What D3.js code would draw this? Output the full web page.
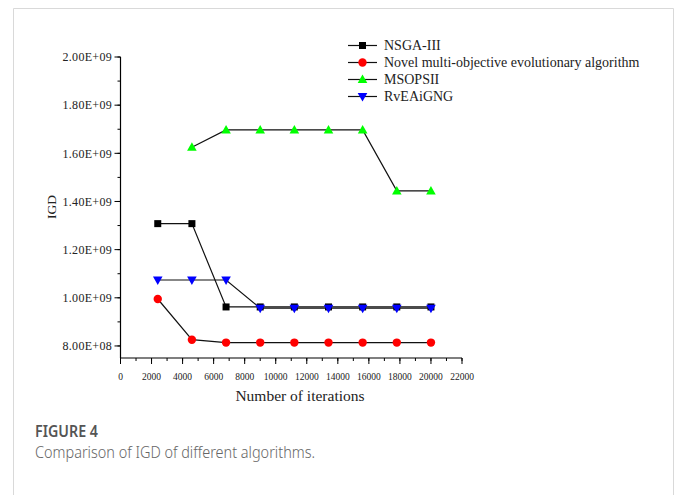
<!DOCTYPE html>
<html><head><meta charset="utf-8">
<script src="https://cdn.jsdelivr.net/npm/d3@7"></script>
<style>
html,body{margin:0;padding:0;background:#fff;}
svg{display:block;}
</style></head>
<body>
<svg id="chart" width="680" height="495"></svg>
<script>
const iterations = [2400, 4600, 6800, 9000, 11200, 13400, 15600, 17800, 20000];
const nsga3 = [1.308e9, 1.308e9, 9.62e8, 9.62e8, 9.62e8, 9.62e8, 9.62e8, 9.62e8, 9.62e8];
const novel = [9.95e8, 8.26e8, 8.14e8, 8.14e8, 8.14e8, 8.14e8, 8.14e8, 8.14e8, 8.14e8];
const msopsii = [null, 1.625e9, 1.697e9, 1.697e9, 1.697e9, 1.697e9, 1.697e9, 1.444e9, 1.444e9];
const rveaignG = [1.074e9, 1.074e9, 1.074e9, 9.57e8, 9.57e8, 9.57e8, 9.57e8, 9.57e8, 9.57e8];
const seriesNames = ["NSGA-III", "Novel multi-objective evolutionary algorithm", "MSOPSII", "RvEAiGNG"];
const yTickValues = [8e8, 1e9, 1.2e9, 1.4e9, 1.6e9, 1.8e9, 2e9];
const yTickLabels = ["8.00E+08", "1.00E+09", "1.20E+09", "1.40E+09", "1.60E+09", "1.80E+09", "2.00E+09"];
const xTickValues = [0,2000,4000,6000,8000,10000,12000,14000,16000,18000,20000,22000];

const series = [
  {name: seriesNames[0], values: nsga3, marker: "square", color: "#000000"},
  {name: seriesNames[1], values: novel, marker: "circle", color: "#ff0000"},
  {name: seriesNames[2], values: msopsii, marker: "triUp", color: "#00ff00"},
  {name: seriesNames[3], values: rveaignG, marker: "triDown", color: "#0000ff"}
];

const svg = d3.select("#chart");
// frame
svg.append("path").attr("d","M13.5,500 L13.5,8.5 L673.5,8.5 L673.5,500")
  .attr("fill","none").attr("stroke","#d9d9d9").attr("stroke-width",1);

const x = d3.scaleLinear().domain([0,22000]).range([120.5,462]);
const y = d3.scaleLinear().domain([7.5e8,2.0e9]).range([358,57]);
const serif = "'Liberation Serif','Times New Roman',serif";

// y axis
const gy = svg.append("g").attr("transform","translate(120.5,0)");
gy.append("line").attr("y1",y(2e9)).attr("y2",y(7.5e8)).attr("stroke","#000").attr("stroke-width",1.2);
const yMinor = d3.range(8e8, 2.0e9+1, 1e8);
gy.selectAll("line.minor").data(yMinor).enter().append("line")
  .attr("x1",-3).attr("x2",0).attr("y1",d=>y(d)).attr("y2",d=>y(d)).attr("stroke","#000");
gy.selectAll("line.major").data(yTickValues).enter().append("line")
  .attr("x1",-6).attr("x2",0).attr("y1",d=>y(d)).attr("y2",d=>y(d)).attr("stroke","#000");
gy.selectAll("text").data(yTickValues).enter().append("text")
  .attr("x",-8.5).attr("y",d=>y(d)).attr("dy","0.35em").attr("text-anchor","end")
  .attr("font-family",serif).attr("font-size",12).attr("fill","#222").attr("letter-spacing","0.3px")
  .text((d,i)=>yTickLabels[i]);

// x axis
const gx = svg.append("g").attr("transform","translate(0,358)");
gx.append("line").attr("x1",120).attr("x2",x(22000)).attr("stroke","#000").attr("stroke-width",1.2);
const xMinor = d3.range(0, 22001, 1000);
gx.selectAll("line.minor").data(xMinor).enter().append("line")
  .attr("x1",d=>x(d)).attr("x2",d=>x(d)).attr("y1",0).attr("y2",3).attr("stroke","#000");
gx.selectAll("line.major").data(xTickValues).enter().append("line")
  .attr("x1",d=>x(d)).attr("x2",d=>x(d)).attr("y1",0).attr("y2",6).attr("stroke","#000");
gx.selectAll("text").data(xTickValues).enter().append("text")
  .attr("x",d=>x(d)).attr("y",21.5).attr("text-anchor","middle")
  .attr("font-family",serif).attr("font-size",9.5).attr("fill","#222").text(d=>d);

// axis titles
svg.append("text").attr("x",300).attr("y",401).attr("text-anchor","middle")
  .attr("font-family",serif).attr("font-size",15.5).attr("fill","#222").text("Number of iterations");
svg.append("text").attr("transform","translate(56,207) rotate(-90)").attr("text-anchor","middle")
  .attr("font-family",serif).attr("font-size",13.5).attr("fill","#222").text("IGD");

function drawMarker(g, type, color, cx, cy){
  if(type==="square"){
    g.append("rect").attr("x",cx-3.5).attr("y",cy-3.5).attr("width",7).attr("height",7).attr("fill",color);
  } else if(type==="circle"){
    g.append("circle").attr("cx",cx).attr("cy",cy).attr("r",4.2).attr("fill",color);
  } else if(type==="triUp"){
    g.append("path").attr("d",`M${cx},${cy-5} L${cx+4.8},${cy+3.5} L${cx-4.8},${cy+3.5} Z`).attr("fill",color);
  } else {
    g.append("path").attr("d",`M${cx},${cy+5} L${cx+4.8},${cy-3.5} L${cx-4.8},${cy-3.5} Z`).attr("fill",color);
  }
}

const line = d3.line().defined(d=>d[1]!=null).x(d=>x(d[0])).y(d=>y(d[1]));
series.forEach(s=>{
  const pts = iterations.map((it,i)=>[it, s.values[i]]);
  svg.append("path").datum(pts).attr("d",line).attr("fill","none").attr("stroke","#111").attr("stroke-width",1.2);
});
series.forEach(s=>{
  const g = svg.append("g");
  iterations.forEach((it,i)=>{ if(s.values[i]!=null) drawMarker(g, s.marker, s.color, x(it), y(s.values[i])); });
});

// legend
const leg = svg.append("g");
series.forEach((s,i)=>{
  const ly = 45.5 + i*17;
  leg.append("line").attr("x1",348).attr("x2",377).attr("y1",ly).attr("y2",ly).attr("stroke","#111").attr("stroke-width",1.2);
  drawMarker(leg, s.marker, s.color, 362.5, ly);
  leg.append("text").attr("x",384).attr("y",ly).attr("dy","0.35em")
    .attr("font-family",serif).attr("font-size",14).attr("fill","#222").text(s.name);
});

// caption
svg.append("text").attr("x",35).attr("y",437).attr("font-family","'Noto Sans','Open Sans',sans-serif")
  .attr("font-size",16).attr("font-weight",600).attr("fill","#555")
  .attr("textLength",63).attr("lengthAdjust","spacingAndGlyphs").text("FIGURE 4");
svg.append("text").attr("x",35).attr("y",457.5).attr("font-family","'Noto Sans','Open Sans',sans-serif")
  .attr("font-size",16).attr("font-weight",300).attr("fill","#666")
  .attr("textLength",280).attr("lengthAdjust","spacingAndGlyphs").text("Comparison of IGD of different algorithms.");
</script>
</body></html>
